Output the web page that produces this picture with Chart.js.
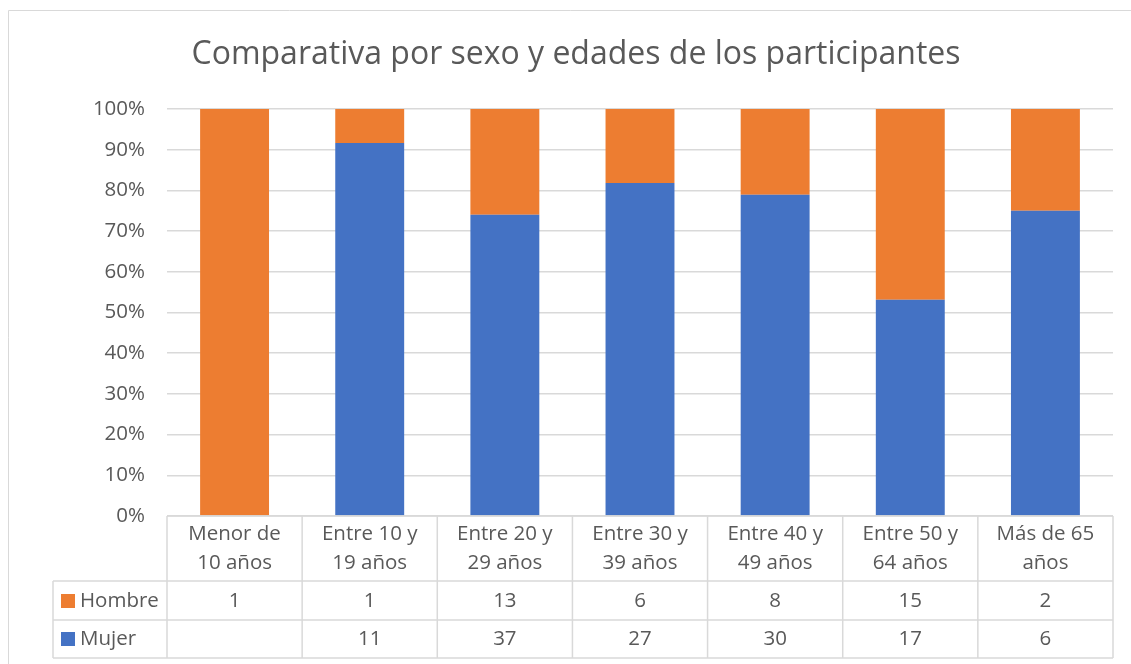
<!DOCTYPE html>
<html>
<head>
<meta charset="utf-8">
<script src="https://cdn.jsdelivr.net/npm/chart.js@4/dist/chart.umd.min.js"></script>
<style>
  html, body { margin: 0; padding: 0; background: #fff; }
  #wrap { width: 1131px; height: 664px; position: relative; }
</style>
</head>
<body>
<div id="wrap"><canvas id="chart" width="1131" height="664"></canvas></div>
<script>
const categories = [
    ['Menor de', '10 años'],
    ['Entre 10 y', '19 años'],
    ['Entre 20 y', '29 años'],
    ['Entre 30 y', '39 años'],
    ['Entre 40 y', '49 años'],
    ['Entre 50 y', '64 años'],
    ['Más de 65', 'años'],
];
const hombre = [1, 1, 13, 6, 8, 15, 2];
const mujer = [null, 11, 37, 27, 30, 17, 6];
const yTickStep = 0.1;
const chartTitle = 'Comparativa por sexo y edades de los participantes';

const orange = '#ED7D31';
const blue = '#4472C4';
const textColor = '#595959';
const lineColor = '#D9D9D9';
const fontFamily = '"Open Sans", sans-serif';

const totals = hombre.map((h, i) => (h || 0) + (mujer[i] || 0));
const pct = arr => arr.map((v, i) => (v || 0) / totals[i]);

// filas de la tabla de datos (orden como en el original)
const tableRows = [
    { label: 'Hombre', color: orange, values: hombre },
    { label: 'Mujer', color: blue, values: mujer },
];

const dataTable = {
    id: 'dataTable',
    beforeDraw(chart) {
        const ctx = chart.ctx;
        ctx.save();
        // marco del gráfico (se sale por la derecha y por abajo)
        ctx.strokeStyle = lineColor;
        ctx.lineWidth = 1;
        ctx.beginPath();
        ctx.moveTo(8.5, 700);
        ctx.lineTo(8.5, 10.5);
        ctx.lineTo(1140, 10.5);
        ctx.stroke();
        // título centrado en el marco
        ctx.fillStyle = textColor;
        ctx.font = '32px ' + fontFamily;
        ctx.textAlign = 'center';
        ctx.textBaseline = 'middle';
        ctx.fillText(chartTitle, 576, 55);
        ctx.restore();
    },
    afterDraw(chart) {
        const ctx = chart.ctx;
        const x = chart.scales.x;
        const area = chart.chartArea;
        const n = categories.length;
        const step = (area.right - area.left) / n;
        const top = area.bottom;
        const row1 = 581, row2 = 620, bottom = 658, keyLeft = 53;

        ctx.save();
        ctx.strokeStyle = lineColor;
        ctx.lineWidth = 1.5;
        ctx.beginPath();
        // horizontales
        ctx.moveTo(area.left, top); ctx.lineTo(area.right, top);
        [row1, row2, bottom].forEach(y => {
            ctx.moveTo(keyLeft, y); ctx.lineTo(area.right, y);
        });
        // verticales
        for (let i = 0; i <= n; i++) {
            const xx = area.left + i * step;
            ctx.moveTo(xx, top); ctx.lineTo(xx, bottom);
        }
        ctx.moveTo(keyLeft, row1); ctx.lineTo(keyLeft, bottom);
        ctx.stroke();

        ctx.fillStyle = textColor;
        ctx.font = '20.5px ' + fontFamily;
        ctx.textAlign = 'center';
        ctx.textBaseline = 'middle';
        categories.forEach((lines, i) => {
            const cx = x.getPixelForValue(i);
            ctx.fillText(lines[0], cx, 534);
            ctx.fillText(lines[1], cx, 563);
            tableRows.forEach((r, j) => {
                const v = r.values[i];
                if (v != null) ctx.fillText(String(v), cx, j === 0 ? 601 : 639);
            });
        });

        ctx.textAlign = 'left';
        tableRows.forEach((r, j) => {
            const cy = j === 0 ? 601 : 639;
            ctx.fillStyle = r.color;
            ctx.fillRect(61, cy - 7, 14, 14);
            ctx.fillStyle = textColor;
            ctx.fillText(r.label, 80, cy);
        });
        ctx.restore();
    }
};

const ctx = document.getElementById('chart').getContext('2d');

new Chart(ctx, {
    type: 'bar',
    data: {
        labels: categories,
        datasets: [
            { label: 'Mujer', data: pct(mujer), backgroundColor: blue, barPercentage: 0.51, categoryPercentage: 1 },
            { label: 'Hombre', data: pct(hombre), backgroundColor: orange, barPercentage: 0.51, categoryPercentage: 1 },
        ],
    },
    options: {
        responsive: false,
        animation: false,
        layout: { padding: { left: 0, right: 18, top: 109, bottom: 0 } },
        plugins: {
            legend: { display: false },
            tooltip: { enabled: false },
            title: { display: false },
        },
        scales: {
            x: {
                stacked: true,
                grid: { display: false },
                border: { display: false },
                ticks: { display: false },
                afterFit: s => { s.height = 148; },
            },
            y: {
                stacked: true,
                min: 0,
                max: 1,
                grid: { color: lineColor, lineWidth: 1.5, drawTicks: false },
                border: { display: false },
                ticks: {
                    stepSize: yTickStep,
                    padding: 22,
                    color: textColor,
                    font: { family: fontFamily, size: 20.5 },
                    callback: v => Math.round(v * 100) + '%',
                },
                afterFit: s => { s.width = 167; },
            },
        },
    },
    plugins: [dataTable],
});
</script>
</body>
</html>
